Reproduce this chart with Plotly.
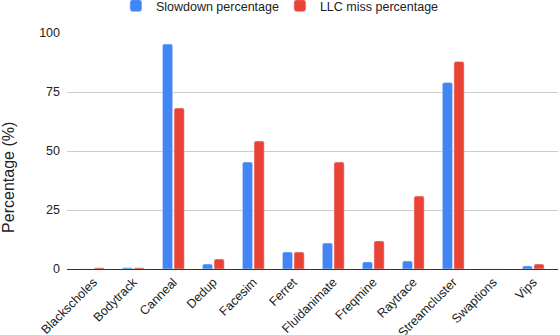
import plotly.graph_objects as go

benchmarks = [
    "Blackscholes", "Bodytrack", "Canneal", "Dedup", "Facesim", "Ferret",
    "Fluidanimate", "Freqmine", "Raytrace", "Streamcluster", "Swaptions", "Vips",
]
slowdown_pct = [0.0, 0.5, 95.3, 2.1, 45.3, 7.2, 11.0, 3.0, 3.4, 79.0, 0.0, 1.3]
llc_miss_pct = [0.5, 0.5, 68.2, 4.2, 54.2, 7.2, 45.3, 11.9, 30.9, 87.9, 0.0, 2.1]
y_ticks = [0, 25, 50, 75, 100]

fig = go.Figure()
fig.add_trace(go.Bar(x=benchmarks, y=slowdown_pct, name="Slowdown percentage",
                     marker_color="#4285F4"))
fig.add_trace(go.Bar(x=benchmarks, y=llc_miss_pct, name="LLC miss percentage",
                     marker_color="#EA4335"))

fig.update_layout(
    width=560,
    height=335,
    margin={"l": 67, "r": 2, "t": 33, "b": 66, "autoexpand": False},
    paper_bgcolor="white",
    plot_bgcolor="white",
    font=dict(family="Arial, Liberation Sans, sans-serif", size=12, color="#222"),
    barmode="group",
    bargap=0.42,
    bargroupgap=0.12,
    barcornerradius=2,
    legend=dict(
        orientation="h",
        xref="container",
        x=0.207,
        xanchor="left",
        yref="container",
        y=0.982,
        yanchor="middle",
        entrywidth=119,
        font=dict(size=12.5, color="#222"),
    ),
    xaxis=dict(
        range=[-0.66, 11.62],
        tickangle=-45,
        automargin=False,
        showgrid=False,
        showline=True,
        linecolor="#333",
        linewidth=1,
        ticks="",
        tickfont=dict(size=12.5, color="#222"),
    ),
    yaxis=dict(
        range=[0, 100],
        tickvals=y_ticks,
        automargin=False,
        gridcolor="#cccccc",
        zeroline=True,
        zerolinecolor="#333",
        zerolinewidth=1,
        ticks="",
        ticklabelstandoff=6,
        tickfont=dict(size=12.5, color="#222"),
    ),
)

# y-axis title sits a bit below the middle of the plot, like the original
fig.add_annotation(
    text="Percentage (%)",
    textangle=-90,
    xref="paper", x=0, xshift=-58, xanchor="center",
    yref="paper", y=0.386, yanchor="middle",
    showarrow=False,
    font=dict(size=16, color="#222"),
)

# drop the default page margin so the figure sits at the window's corner
fig.write_html("out.html", config={"displayModeBar": False},
               post_script="document.body.style.margin='0';")
